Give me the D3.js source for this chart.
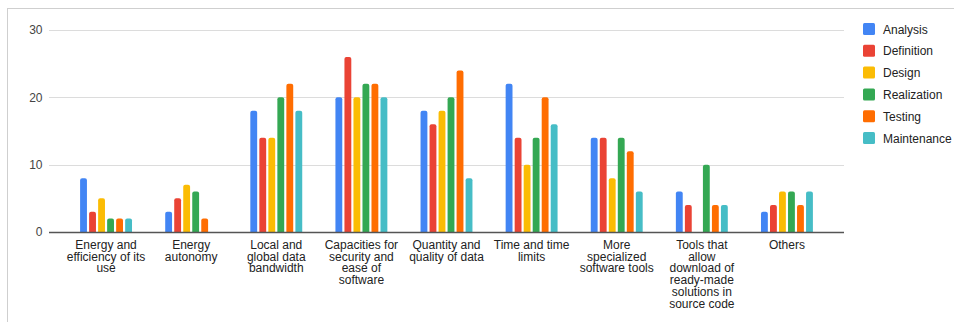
<!DOCTYPE html>
<html>
<head>
<meta charset="utf-8">
<script src="https://cdn.jsdelivr.net/npm/d3@7"></script>
<style>
  html, body { margin: 0; padding: 0; background: #fff; }
  svg { display: block; font-family: "Liberation Sans", Arial, sans-serif; }
</style>
</head>
<body>
<svg id="chart" width="954" height="322"></svg>
<script>
// Categories (line breaks mark how each label wraps under the axis)
const categories = [
  "Energy and\nefficiency of its\nuse",
  "Energy\nautonomy",
  "Local and\nglobal data\nbandwidth",
  "Capacities for\nsecurity and\nease of\nsoftware",
  "Quantity and\nquality of data",
  "Time and time\nlimits",
  "More\nspecialized\nsoftware tools",
  "Tools that\nallow\ndownload of\nready-made\nsolutions in\nsource code",
  "Others"
];

const seriesNames = ["Analysis", "Definition", "Design", "Realization", "Testing", "Maintenance"];
const seriesColors = ["#4285F4", "#EA4335", "#FBBC04", "#34A853", "#FF6D01", "#46BDC6"];

// One value per category, per series
const analysis    = [8, 3, 18, 20, 18, 22, 14, 6, 3];
const definition  = [3, 5, 14, 26, 16, 14, 14, 4, 4];
const design      = [5, 7, 14, 20, 18, 10, 8, 0, 6];
const realization = [2, 6, 20, 22, 20, 14, 14, 10, 6];
const testing     = [2, 2, 22, 22, 24, 20, 12, 4, 4];
const maintenance = [2, 0, 18, 20, 8, 16, 6, 4, 6];

const yTicks = [0, 10, 20, 30];

const seriesValues = [analysis, definition, design, realization, testing, maintenance];

const svg = d3.select("#chart");

// outer frame
svg.append("rect")
  .attr("x", 7.5).attr("y", 8.5)
  .attr("width", 1000).attr("height", 400)
  .attr("fill", "none").attr("stroke", "#cfcfcf").attr("stroke-width", 1);

const plotLeft = 49, plotRight = 844;

const y = d3.scaleLinear().domain([0, 30]).range([232, 30]);

const x0 = d3.scaleBand()
  .domain(categories)
  .range([63.5, 829.5])
  .paddingInner(0)
  .paddingOuter(0);

const x1 = d3.scaleBand()
  .domain(seriesNames)
  .range([x0.bandwidth() * 0.195, x0.bandwidth() * 0.805])
  .paddingInner(0.24);

// gridlines
svg.append("g")
  .selectAll("line")
  .data(yTicks.filter(t => t !== 0))
  .join("line")
  .attr("x1", plotLeft).attr("x2", plotRight)
  .attr("y1", d => Math.round(y(d)) + 0.5).attr("y2", d => Math.round(y(d)) + 0.5)
  .attr("stroke", "#dcdcdc").attr("stroke-width", 1);

// y-axis labels
const yAxis = d3.axisLeft(y).tickValues(yTicks).tickSize(0).tickPadding(0);
const yg = svg.append("g").attr("transform", `translate(${42.5},0)`).call(yAxis);
yg.select(".domain").remove();
yg.selectAll("text")
  .attr("font-size", 12)
  .attr("fill", "#444")
  .attr("font-family", "'Liberation Sans', Arial, sans-serif");

// bars with slightly rounded tops
function barPath(x, w, yTop, yBase, r) {
  const h = yBase - yTop;
  if (h <= 0) return "";
  r = Math.min(r, h, w / 2);
  return `M${x},${yBase}V${yTop + r}Q${x},${yTop} ${x + r},${yTop}H${x + w - r}Q${x + w},${yTop} ${x + w},${yTop + r}V${yBase}Z`;
}

const groups = svg.append("g")
  .selectAll("g")
  .data(categories.map((c, i) => ({ c, i })))
  .join("g")
  .attr("transform", d => `translate(${x0(d.c)},0)`);

groups.selectAll("path")
  .data(d => seriesNames.map((s, j) => ({ s, j, v: seriesValues[j][d.i] })))
  .join("path")
  .attr("d", d => barPath(x1(d.s), x1.bandwidth(), y(d.v), y(0), 2))
  .attr("fill", d => seriesColors[d.j]);

// baseline
svg.append("line")
  .attr("x1", plotLeft).attr("x2", plotRight)
  .attr("y1", y(0) + 0.5).attr("y2", y(0) + 0.5)
  .attr("stroke", "#555").attr("stroke-width", 1.3);

// category labels
const xl = svg.append("g");
categories.forEach(c => {
  const lines = c.split("\n");
  const t = xl.append("text")
    .attr("x", x0(c) + x0.bandwidth() / 2)
    .attr("y", 249)
    .attr("text-anchor", "middle")
    .attr("font-size", 12)
    .attr("fill", "#222");
  lines.forEach((ln, k) => {
    t.append("tspan")
      .attr("x", x0(c) + x0.bandwidth() / 2)
      .attr("dy", k === 0 ? 0 : 11.7)
      .text(ln);
  });
});

// legend
const legend = svg.append("g").attr("transform", "translate(863,23)");
const li = legend.selectAll("g")
  .data(seriesNames)
  .join("g")
  .attr("transform", (d, i) => `translate(0,${i * 21.8})`);
li.append("rect")
  .attr("width", 12).attr("height", 12).attr("rx", 1.5)
  .attr("fill", (d, i) => seriesColors[i]);
li.append("text")
  .attr("x", 20).attr("y", 10.5)
  .attr("font-size", 12)
  .attr("fill", "#222")
  .text(d => d);
</script>
</body>
</html>
